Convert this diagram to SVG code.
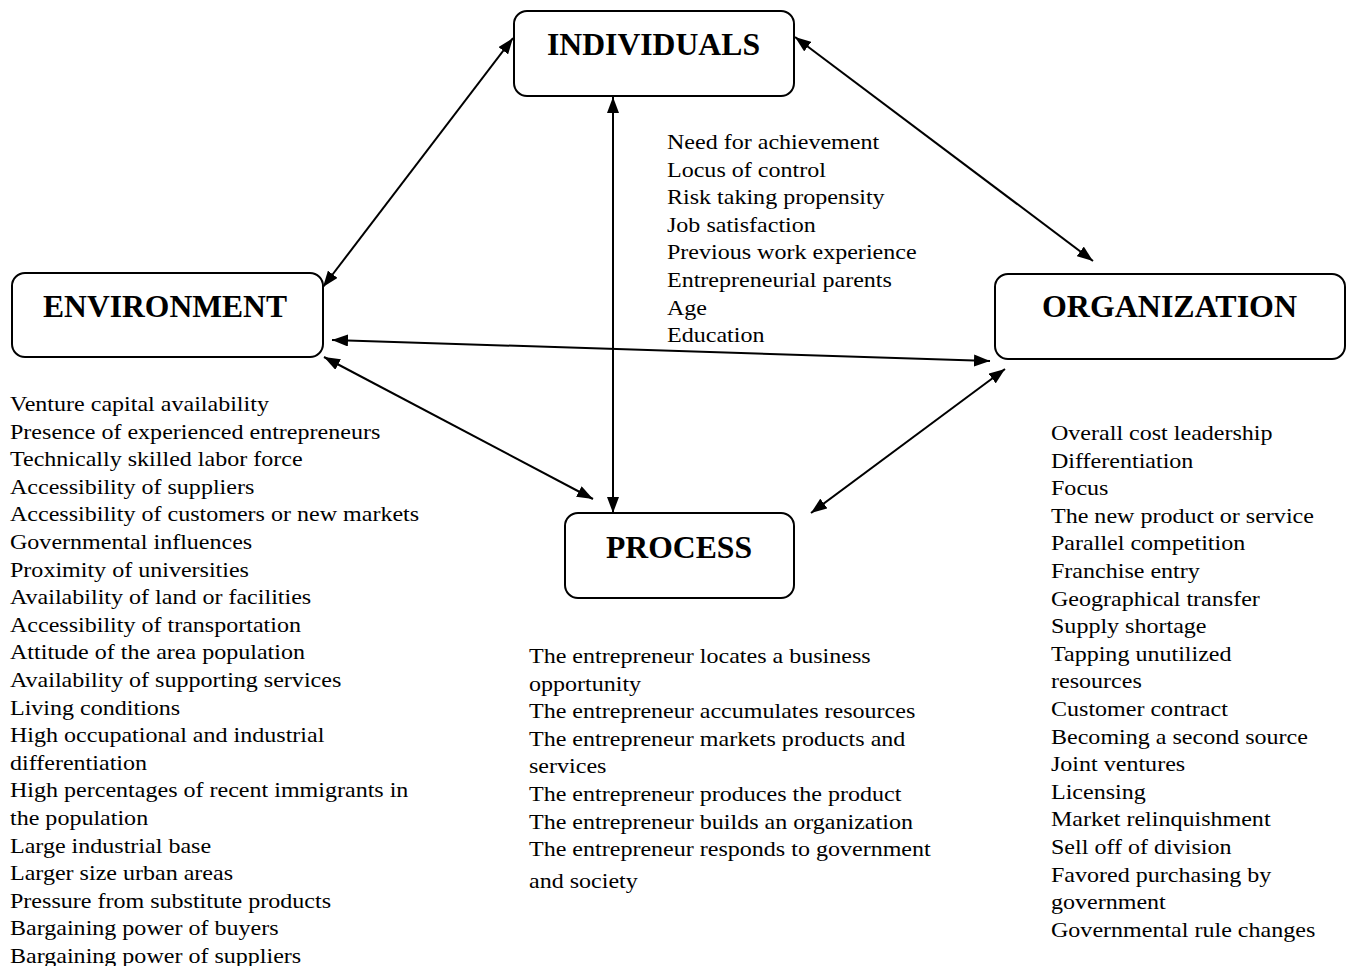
<svg xmlns="http://www.w3.org/2000/svg" width="1351" height="966" viewBox="0 0 1351 966">
  <style>
    .box { fill: #ffffff; stroke: #000000; stroke-width: 2; }
    .title { font-family: "Liberation Serif", "Times New Roman", serif; font-weight: bold; font-size: 32px; fill: #000000; }
    .list { font-family: "Liberation Serif", "Times New Roman", serif; font-size: 22px; fill: #000000; }
    .conn { stroke: #000000; stroke-width: 2; fill: none; marker-start: url(#head); marker-end: url(#head); }
  </style>
  <defs>
    <marker id="head" viewBox="0 0 16 12" refX="16" refY="6" markerWidth="16" markerHeight="12" markerUnits="userSpaceOnUse" orient="auto-start-reverse">
      <path d="M0,0 L16,6 L0,12 z" fill="#000000"/>
    </marker>
  </defs>
  <rect width="1351" height="966" fill="#ffffff"/>

  <!-- connectors -->
  <g id="connectors">
    <line class="conn" x1="513" y1="38" x2="323" y2="287"/>
    <line class="conn" x1="795" y1="37" x2="1093" y2="261"/>
    <line class="conn" x1="613" y1="97" x2="613" y2="513"/>
    <line class="conn" x1="332" y1="340" x2="990" y2="361"/>
    <line class="conn" x1="324" y1="357" x2="593" y2="499"/>
    <line class="conn" x1="1005" y1="369" x2="811" y2="513"/>
  </g>

  <g id="individuals">
    <rect class="box" x="514" y="11" width="280" height="85" rx="13"/>
    <text class="title" x="547" y="55" textLength="213" lengthAdjust="spacingAndGlyphs">INDIVIDUALS</text>
  </g>

  <g id="environment">
    <rect class="box" x="12" y="273" width="311" height="84" rx="13"/>
    <text class="title" x="43" y="317" textLength="244" lengthAdjust="spacingAndGlyphs">ENVIRONMENT</text>
  </g>

  <g id="organization">
    <rect class="box" x="995" y="274" width="350" height="85" rx="13"/>
    <text class="title" x="1042" y="317" textLength="255" lengthAdjust="spacingAndGlyphs">ORGANIZATION</text>
  </g>

  <g id="process">
    <rect class="box" x="565" y="513" width="229" height="85" rx="13"/>
    <text class="title" x="606" y="558" textLength="146" lengthAdjust="spacingAndGlyphs">PROCESS</text>
  </g>

  <!-- individual characteristics (text set slightly wide) -->
  <g id="individuals-list" class="list" transform="translate(667,0) scale(1.093,1)">
    <text x="0" y="149">Need for achievement</text>
    <text x="0" y="176.6">Locus of control</text>
    <text x="0" y="204.2">Risk taking propensity</text>
    <text x="0" y="231.8">Job satisfaction</text>
    <text x="0" y="259.4">Previous work experience</text>
    <text x="0" y="287">Entrepreneurial parents</text>
    <text x="0" y="314.6">Age</text>
    <text x="0" y="342.2">Education</text>
  </g>

  <!-- environmental factors -->
  <g id="environment-list" class="list" transform="translate(10,0) scale(1.093,1)">
    <text x="0" y="411">Venture capital availability</text>
    <text x="0" y="438.6">Presence of experienced entrepreneurs</text>
    <text x="0" y="466.2">Technically skilled labor force</text>
    <text x="0" y="493.8">Accessibility of suppliers</text>
    <text x="0" y="521.4">Accessibility of customers or new markets</text>
    <text x="0" y="549">Governmental influences</text>
    <text x="0" y="576.6">Proximity of universities</text>
    <text x="0" y="604.2">Availability of land or facilities</text>
    <text x="0" y="631.8">Accessibility of transportation</text>
    <text x="0" y="659.4">Attitude of the area population</text>
    <text x="0" y="687">Availability of supporting services</text>
    <text x="0" y="714.6">Living conditions</text>
    <text x="0" y="742.2">High occupational and industrial</text>
    <text x="0" y="769.8">differentiation</text>
    <text x="0" y="797.4">High percentages of recent immigrants in</text>
    <text x="0" y="825">the population</text>
    <text x="0" y="852.6">Large industrial base</text>
    <text x="0" y="880.2">Larger size urban areas</text>
    <text x="0" y="907.8">Pressure from substitute products</text>
    <text x="0" y="935.4">Bargaining power of buyers</text>
    <text x="0" y="963">Bargaining power of suppliers</text>
  </g>

  <!-- process steps -->
  <g id="process-list" class="list" transform="translate(529,0) scale(1.093,1)">
    <text x="0" y="663">The entrepreneur locates a business</text>
    <text x="0" y="690.6">opportunity</text>
    <text x="0" y="718.2">The entrepreneur accumulates resources</text>
    <text x="0" y="745.8">The entrepreneur markets products and</text>
    <text x="0" y="773.4">services</text>
    <text x="0" y="801">The entrepreneur produces the product</text>
    <text x="0" y="828.6">The entrepreneur builds an organization</text>
    <text x="0" y="856.2">The entrepreneur responds to government</text>
    <text x="0" y="888">and society</text>
  </g>

  <!-- organizational strategies -->
  <g id="organization-list" class="list" transform="translate(1051,0) scale(1.093,1)">
    <text x="0" y="440">Overall cost leadership</text>
    <text x="0" y="467.6">Differentiation</text>
    <text x="0" y="495.2">Focus</text>
    <text x="0" y="522.8">The new product or service</text>
    <text x="0" y="550.4">Parallel competition</text>
    <text x="0" y="578">Franchise entry</text>
    <text x="0" y="605.6">Geographical transfer</text>
    <text x="0" y="633.2">Supply shortage</text>
    <text x="0" y="660.8">Tapping unutilized</text>
    <text x="0" y="688.4">resources</text>
    <text x="0" y="716">Customer contract</text>
    <text x="0" y="743.6">Becoming a second source</text>
    <text x="0" y="771.2">Joint ventures</text>
    <text x="0" y="798.8">Licensing</text>
    <text x="0" y="826.4">Market relinquishment</text>
    <text x="0" y="854">Sell off of division</text>
    <text x="0" y="881.6">Favored purchasing by</text>
    <text x="0" y="909.2">government</text>
    <text x="0" y="936.8">Governmental rule changes</text>
  </g>
</svg>
